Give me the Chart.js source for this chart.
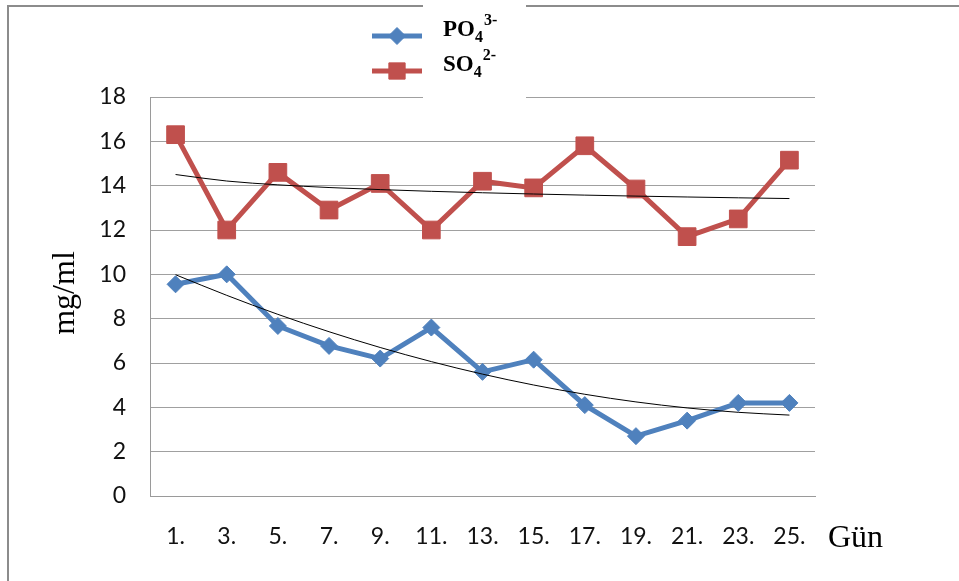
<!DOCTYPE html>
<html>
<head>
<meta charset="utf-8">
<script src="https://cdn.jsdelivr.net/npm/chart.js@4.4.1/dist/chart.umd.min.js"></script>
<style>
  html, body { margin: 0; padding: 0; background: #fff; }
  canvas { display: block; }
</style>
</head>
<body>
<canvas id="chart" width="959" height="581"></canvas>
<script>
// Measurement days
const days = ['1.', '3.', '5.', '7.', '9.', '11.', '13.', '15.', '17.', '19.', '21.', '23.', '25.'];

// Phosphate concentration (mg/ml)
const po4 = [9.55, 10.0, 7.67, 6.77, 6.2, 7.6, 5.6, 6.15, 4.1, 2.7, 3.4, 4.2, 4.2];

// Sulphate concentration (mg/ml)
const so4 = [16.3, 12.0, 14.6, 12.9, 14.1, 12.0, 14.2, 13.9, 15.8, 13.85, 11.7, 12.5, 15.15];

// Value axis
const yMin = 0;
const yMax = 18;
const yStep = 2;

const BLUE = '#4F81BD';
const RED = '#C0504D';

// Logarithmic trend  y = a + b·ln(x), x = 1..n
function logTrend(values) {
  const n = values.length;
  const xs = values.map((_, i) => Math.log(i + 1));
  const mx = xs.reduce((s, v) => s + v, 0) / n;
  const my = values.reduce((s, v) => s + v, 0) / n;
  let sxy = 0, sxx = 0;
  xs.forEach((x, i) => { sxy += (x - mx) * (values[i] - my); sxx += (x - mx) * (x - mx); });
  const b = sxy / sxx;
  const a = my - b * mx;
  return xs.map(x => a + b * x);
}

// Second-order polynomial trend, least squares, x = 1..n
function polyTrend(values) {
  const S = [0, 0, 0, 0, 0];
  const T = [0, 0, 0];
  values.forEach((y, i) => {
    const x = i + 1;
    for (let k = 0; k < 5; k++) S[k] += Math.pow(x, k);
    for (let k = 0; k < 3; k++) T[k] += y * Math.pow(x, k);
  });
  // Normal equations, solved by Gaussian elimination
  const M = [
    [S[0], S[1], S[2], T[0]],
    [S[1], S[2], S[3], T[1]],
    [S[2], S[3], S[4], T[2]]
  ];
  for (let c = 0; c < 3; c++) {
    for (let r = c + 1; r < 3; r++) {
      const f = M[r][c] / M[c][c];
      for (let k = c; k < 4; k++) M[r][k] -= f * M[c][k];
    }
  }
  const coef = [0, 0, 0];
  for (let r = 2; r >= 0; r--) {
    let s = M[r][3];
    for (let k = r + 1; k < 3; k++) s -= M[r][k] * coef[k];
    coef[r] = s / M[r][r];
  }
  return values.map((_, i) => { const x = i + 1; return coef[0] + coef[1] * x + coef[2] * x * x; });
}

const po4Trend = polyTrend(po4);
const so4Trend = logTrend(so4);

// Outer frame, axis captions and the legend with chemical formulas
const decorations = {
  id: 'decorations',
  beforeDraw(chart) {
    const ctx = chart.ctx;
    ctx.save();
    ctx.strokeStyle = '#8c8c8c';
    ctx.lineWidth = 2;
    ctx.beginPath();
    ctx.moveTo(8, 581);
    ctx.lineTo(8, 6);
    ctx.lineTo(959, 6);
    ctx.stroke();
    ctx.restore();
  },
  afterDraw(chart) {
    const ctx = chart.ctx;
    ctx.save();

    // legend panel
    ctx.fillStyle = '#ffffff';
    ctx.fillRect(423, 0, 103, 99);

    const entries = [
      { y: 36, color: BLUE, style: 'rectRot', radius: 8.5, base: 'PO', sup: '3-' },
      { y: 71, color: RED, style: 'rect', radius: 11.5, base: 'SO', sup: '2-' }
    ];
    entries.forEach(e => {
      ctx.strokeStyle = e.color;
      ctx.lineWidth = 5;
      ctx.beginPath();
      ctx.moveTo(372, e.y);
      ctx.lineTo(422, e.y);
      ctx.stroke();
      ctx.fillStyle = e.color;
      ctx.lineWidth = 1;
      Chart.helpers.drawPoint(ctx, { pointStyle: e.style, radius: e.radius, rotation: 0, borderWidth: 1 }, 397, e.y);

      ctx.fillStyle = '#000';
      ctx.textBaseline = 'alphabetic';
      ctx.textAlign = 'left';
      ctx.font = 'bold 23px "Liberation Serif", "Times New Roman", serif';
      const baseW = ctx.measureText(e.base).width;
      ctx.fillText(e.base, 443, e.y);
      ctx.font = 'bold 16px "Liberation Serif", "Times New Roman", serif';
      const subW = ctx.measureText('4').width;
      ctx.fillText('4', 443 + baseW, e.y + 6);
      ctx.fillText(e.sup, 443 + baseW + subW + 1, e.y - 11);
    });

    // axis captions
    ctx.fillStyle = '#000';
    ctx.font = '32px "Liberation Serif", "Times New Roman", serif';
    ctx.textAlign = 'left';
    ctx.textBaseline = 'alphabetic';
    ctx.fillText('Gün', 828, 547);

    ctx.translate(74, 293);
    ctx.rotate(-Math.PI / 2);
    ctx.textAlign = 'center';
    ctx.fillText('mg/ml', 0, 0);
    ctx.restore();
  }
};

new Chart(document.getElementById('chart'), {
  type: 'line',
  data: {
    labels: days,
    datasets: [
      {
        label: 'PO4 3-',
        data: po4,
        borderColor: BLUE,
        backgroundColor: BLUE,
        borderWidth: 5,
        pointStyle: 'rectRot',
        pointRadius: 8.5,
        pointBorderWidth: 1,
        tension: 0,
        order: 2
      },
      {
        label: 'SO4 2-',
        data: so4,
        borderColor: RED,
        backgroundColor: RED,
        borderWidth: 5,
        pointStyle: 'rect',
        pointRadius: 12.5,
        pointBorderWidth: 1,
        tension: 0,
        order: 2
      },
      {
        label: 'PO4 trend',
        data: po4Trend,
        borderColor: '#000',
        borderWidth: 1,
        pointRadius: 0,
        cubicInterpolationMode: 'monotone',
        order: 1
      },
      {
        label: 'SO4 trend',
        data: so4Trend,
        borderColor: '#000',
        borderWidth: 1,
        pointRadius: 0,
        cubicInterpolationMode: 'monotone',
        order: 1
      }
    ]
  },
  options: {
    responsive: false,
    animation: false,
    events: [],
    layout: { padding: { top: 97, right: 144, left: 0, bottom: 0 } },
    plugins: {
      legend: { display: false },
      tooltip: { enabled: false },
      title: { display: false }
    },
    scales: {
      x: {
        offset: true,
        grid: { display: false, drawTicks: false },
        border: { display: true, color: '#9a9a9a', width: 1 },
        ticks: {
          color: '#111',
          padding: 27,
          maxRotation: 0,
          autoSkip: false,
          font: { family: 'Lato, "Open Sans", sans-serif', size: 23 }
        },
        afterFit(scale) { scale.height = 85; }
      },
      y: {
        min: yMin,
        max: yMax,
        grid: { color: '#a0a0a0', lineWidth: 1, drawTicks: false },
        border: { display: true, color: '#9a9a9a', width: 1 },
        ticks: {
          stepSize: yStep,
          color: '#111',
          padding: 24,
          font: { family: 'Lato, "Open Sans", sans-serif', size: 23 }
        },
        afterFit(scale) { scale.width = 150; }
      }
    }
  },
  plugins: [decorations]
});
</script>
</body>
</html>
